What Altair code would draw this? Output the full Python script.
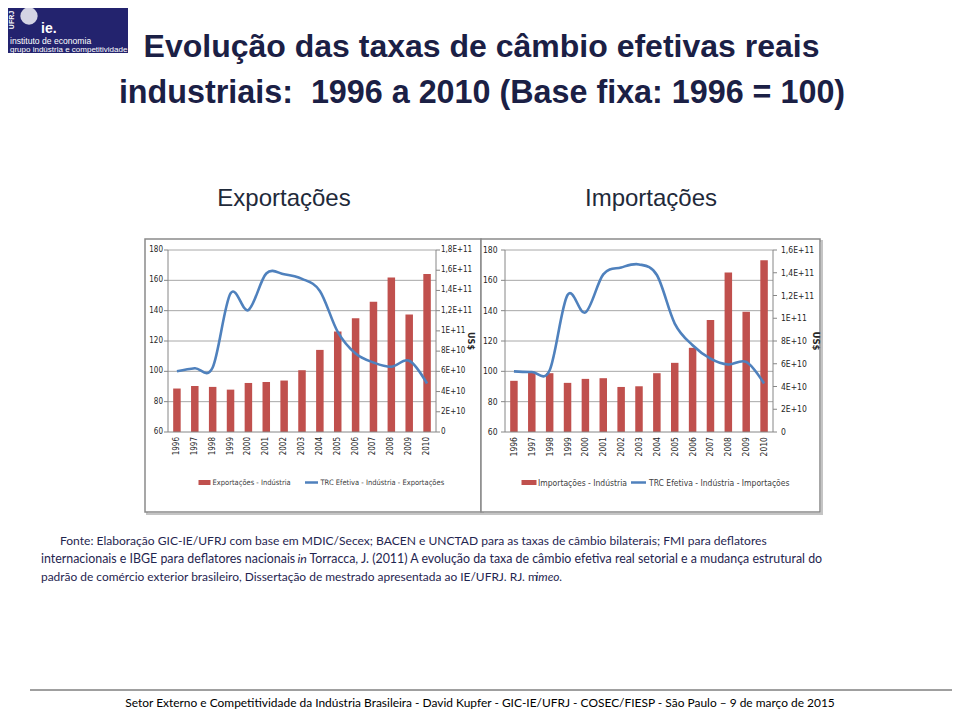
import altair as alt
import pandas as pd

# ---------------- data ----------------
years = [str(y) for y in range(1996, 2011)]

exp_industria = [4.30e10, 4.55e10, 4.46e10, 4.19e10, 4.85e10, 4.95e10, 5.09e10, 6.11e10,
                 8.12e10, 9.94e10, 11.26e10, 12.88e10, 15.29e10, 11.62e10, 15.62e10]
exp_trc = [100, 102, 102.5, 151.4, 140.4, 164.5, 164, 161, 153, 126, 111.7, 105.8, 103, 107, 92]

imp_industria = [4.50e10, 5.28e10, 5.17e10, 4.32e10, 4.67e10, 4.73e10, 3.96e10, 4.02e10,
                 5.17e10, 6.08e10, 7.40e10, 9.84e10, 14.03e10, 10.57e10, 15.09e10]
imp_trc = [100, 99.6, 100.7, 150.3, 138.8, 163.9, 168.5, 170.5, 163.5, 131.5, 117.2, 108.4, 104.5, 106.2, 92]

left_ticks = [60, 80, 100, 120, 140, 160, 180]
grid_ticks = [80, 100, 120, 140, 160, 180]

exp_right_ticks = [0, 2e10, 4e10, 6e10, 8e10, 1e11, 1.2e11, 1.4e11, 1.6e11, 1.8e11]
exp_right_labels = ["0", "2E+10", "4E+10", "6E+10", "8E+10", "1E+11", "1,2E+11", "1,4E+11", "1,6E+11", "1,8E+11"]
imp_right_ticks = [0, 2e10, 4e10, 6e10, 8e10, 1e11, 1.2e11, 1.4e11, 1.6e11]
imp_right_labels = ["0", "2E+10", "4E+10", "6E+10", "8E+10", "1E+11", "1,2E+11", "1,4E+11", "1,6E+11"]

# ---------------- styling ----------------
OFF = 8
NARROW = "Liberation Sans Narrow, DejaVu Sans Condensed, Liberation Sans, sans-serif"
SANS = "Liberation Sans, Arial, sans-serif"
CAL = "Lato, Open Sans, sans-serif"
RED = "#C0504D"
BLUE = "#4F81BD"
TITLE_TXT = "#1b2045"
NAVY_TXT = "#1f2550"

one = pd.DataFrame({"k": [0]})


def px(v):
    return v - OFF


def deco_rule(x, x2, y, y2, color, width=1):
    return alt.Chart(one).mark_rule(color=color, strokeWidth=width).encode(
        x=alt.value(px(x)), x2=alt.value(px(x2)), y=alt.value(px(y)), y2=alt.value(px(y2)))


def deco_rect(x, x2, y, y2, **kw):
    return alt.Chart(one).mark_rect(**kw).encode(
        x=alt.value(px(x)), x2=alt.value(px(x2)), y=alt.value(px(y)), y2=alt.value(px(y2)))


def deco_text(text, x, y, size, font, color, align="left", weight="normal",
              angle=0, style="normal", baseline="middle"):
    return alt.Chart(one).mark_text(
        text=text, fontSize=size, font=font, color=color, align=align,
        fontWeight=weight, angle=angle, fontStyle=style, baseline=baseline
    ).encode(x=alt.value(px(x)), y=alt.value(px(y)))


def panel(x0, x1, ytop, ybot, bars, trc, rticks, rlabels, rmax,
          lab_left_x, lab_right_x, usd_x, fsize, leg):
    xb = alt.Scale(type="band", domain=years, range=[px(x0), px(x1)],
                   paddingInner=0.58, paddingOuter=0.29)
    xp = alt.Scale(type="point", domain=years, range=[px(x0), px(x1)], padding=0.5)
    yl = alt.Scale(domain=[60, 180], range=[px(ybot), px(ytop)], zero=False, nice=False)
    yr = alt.Scale(domain=[0, rmax], range=[px(ybot), px(ytop)], zero=False, nice=False)

    bars_df = pd.DataFrame({"ano": years, "valor": bars})
    trc_df = pd.DataFrame({"ano": years, "trc": trc})
    grid_df = pd.DataFrame({"g": grid_ticks})
    lt_df = pd.DataFrame({"v": left_ticks, "lab": [str(v) for v in left_ticks]})
    rt_df = pd.DataFrame({"v": rticks, "lab": rlabels})

    layers = []
    layers.append(alt.Chart(grid_df).mark_rule(color="#a8a8a8", strokeWidth=1).encode(
        y=alt.Y("g:Q", scale=yl, axis=None), x=alt.value(px(x0)), x2=alt.value(px(x1))))
    layers.append(alt.Chart(bars_df).mark_bar(color=RED).encode(
        x=alt.X("ano:O", scale=xb, axis=None), y=alt.Y("valor:Q", scale=yr, axis=None)))
    layers.append(deco_rule(x0, x0, ytop, ybot, "#868686", 1))
    layers.append(deco_rule(x1, x1, ytop, ybot, "#868686", 1))
    layers.append(deco_rule(x0, x1, ybot, ybot, "#868686", 1))
    layers.append(alt.Chart(lt_df).mark_rule(color="#868686").encode(
        y=alt.Y("v:Q", scale=yl, axis=None), x=alt.value(px(x0 - 4)), x2=alt.value(px(x0))))
    layers.append(alt.Chart(rt_df).mark_rule(color="#868686").encode(
        y=alt.Y("v:Q", scale=yr, axis=None), x=alt.value(px(x1)), x2=alt.value(px(x1 + 4))))
    layers.append(alt.Chart(trc_df).mark_line(color=BLUE, strokeWidth=2.6, interpolate="cardinal").encode(
        x=alt.X("ano:O", scale=xp, axis=None), y=alt.Y("trc:Q", scale=yl, axis=None)))
    layers.append(alt.Chart(lt_df).mark_text(align="right", baseline="middle", font=NARROW,
                                             fontSize=fsize, color="#262626").encode(
        y=alt.Y("v:Q", scale=yl, axis=None), x=alt.value(px(lab_left_x)), text="lab:N"))
    layers.append(alt.Chart(rt_df).mark_text(align="left", baseline="middle", font=NARROW,
                                             fontSize=fsize, color="#262626").encode(
        y=alt.Y("v:Q", scale=yr, axis=None), x=alt.value(px(lab_right_x)), text="lab:N"))
    layers.append(alt.Chart(bars_df).mark_text(align="right", baseline="middle", angle=270,
                                               font=NARROW, fontSize=fsize, color="#262626").encode(
        x=alt.X("ano:O", scale=xp, axis=None), y=alt.value(px(ybot + 5)), text="ano:N"))
    layers.append(deco_text("US$", usd_x, (ytop + ybot) / 2, fsize + 1, NARROW, "#262626",
                            align="center", weight="bold", angle=90))
    # legend
    (rx0, rx1, t1x, lx0, lx1, t2x, t1, t2, lsize) = leg
    ly = 482.5
    layers.append(deco_rect(rx0, rx1, ly - 2.5, ly + 2.5, color=RED))
    layers.append(deco_text(t1, t1x, ly, lsize, NARROW, "#404040"))
    layers.append(deco_rule(lx0, lx1, ly, ly, BLUE, 2.5))
    layers.append(deco_text(t2, t2x, ly, lsize, NARROW, "#404040"))
    return layers


layers = []

# logo
layers.append(deco_rect(4, 128, 2, 53, color="#23236e"))
layers.append(alt.Chart(one).mark_point(shape="circle", filled=True, size=300, color="#d4d4e4", opacity=1).encode(
    x=alt.value(px(29)), y=alt.value(px(16))))
layers.append(deco_text("UFRJ", 11.5, 20, 7, SANS, "white", align="center", weight="bold", angle=270))
layers.append(deco_text("ie.", 41, 33, 14, SANS, "white", weight="bold", baseline="alphabetic"))
layers.append(deco_text("instituto de economia", 10, 41, 8.6, SANS, "white"))
layers.append(deco_text("grupo indústria e competitividade", 10, 49.5, 8.0, SANS, "white"))

# titles
layers.append(deco_text("Evolução das taxas de câmbio efetivas reais", 481.5, 47, 32, SANS, TITLE_TXT,
                        align="center", weight="bold"))
layers.append(deco_text("industriais:\u00a0 1996 a 2010 (Base fixa: 1996 = 100)", 482, 93, 32.3, SANS, TITLE_TXT,
                        align="center", weight="bold"))
layers.append(deco_text("Exportações", 284, 199, 24, SANS, "#1f2a3a", align="center"))
layers.append(deco_text("Importações", 651, 199, 24, SANS, "#1f2a3a", align="center"))

# chart frames (shadow + box)
layers.append(deco_rect(147, 483, 241, 514, fillOpacity=0, stroke="#c4c4c4", strokeWidth=2))
layers.append(deco_rect(483, 822, 241, 514, fillOpacity=0, stroke="#c4c4c4", strokeWidth=2))
layers.append(deco_rect(145, 481, 239, 512, color="white", stroke="#8a8a8a", strokeWidth=1.5))
layers.append(deco_rect(481, 820, 239, 512, color="white", stroke="#8a8a8a", strokeWidth=1.5))

layers += panel(168, 436, 250, 432, exp_industria, exp_trc, exp_right_ticks, exp_right_labels, 1.8e11,
                163, 441, 471, 8,
                (198.5, 210.5, 212.5, 305, 318, 320.5,
                 "Exportações - Indústria", "TRC Efetiva - Indústria - Exportações", 7.5))
layers += panel(505, 773, 250, 432, imp_industria, imp_trc, imp_right_ticks, imp_right_labels, 1.6e11,
                497.5, 781, 816, 8.5,
                (521.5, 536.5, 538, 631, 646, 649,
                 "Importações - Indústria", "TRC Efetiva - Indústria - Importações", 8.5))

# source note
layers.append(deco_text("Fonte: Elaboração GIC-IE/UFRJ com base em MDIC/Secex; BACEN e UNCTAD para as taxas de câmbio bilaterais; FMI para deflatores",
                        60, 541, 12.05, CAL, NAVY_TXT))
layers.append(deco_text("internacionais e IBGE para deflatores nacionais", 41, 559, 12.4, CAL, NAVY_TXT))
layers.append(deco_text("in", 297.5, 559, 12.4, CAL, NAVY_TXT, style="italic"))
layers.append(deco_text("Torracca, J. (2011) A evolução da taxa de câmbio efetiva real setorial e a mudança estrutural do",
                        309.5, 559, 12.4, CAL, NAVY_TXT))
layers.append(deco_text("padrão de comércio exterior brasileiro, Dissertação de mestrado apresentada ao IE/UFRJ. RJ. m",
                        41, 577, 11.95, CAL, NAVY_TXT))
layers.append(deco_text("imeo.", 535.5, 577, 11.95, CAL, NAVY_TXT, style="italic"))

# footer
layers.append(deco_rule(30, 960, 690, 690, "#404040", 1))
layers.append(deco_text("Setor Externo e Competitividade da Indústria Brasileira - David Kupfer - GIC-IE/UFRJ - COSEC/FIESP - São Paulo – 9 de março de 2015",
                        480, 703, 11.95, CAL, "#000000", align="center"))

chart = alt.layer(*layers).resolve_scale(x="independent", y="independent").properties(
    width=944, height=703, autosize=alt.AutoSizeParams(type="none"), padding=0
).configure_view(stroke=None)

chart.save("out.html", embed_options={"renderer": "svg", "actions": False})
